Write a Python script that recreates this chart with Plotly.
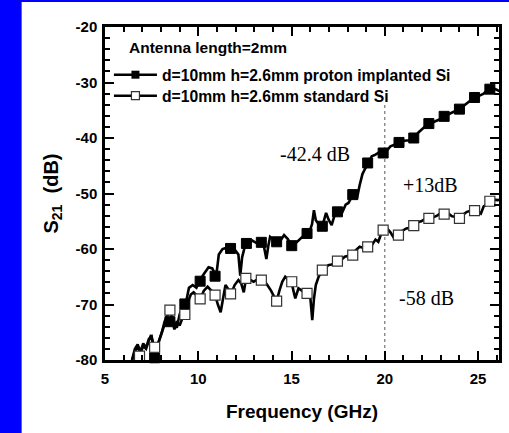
import plotly.graph_objects as go

# ---- data ----
imp_x = [6.45, 6.6, 6.75, 6.9, 7.05, 7.2, 7.35, 7.5, 7.65, 7.8, 7.95, 8.1, 8.3, 8.5, 8.7, 8.85,
         9.0, 9.2, 9.35, 9.5, 9.7, 9.9, 10.1, 10.3, 10.55, 10.75, 10.9, 11.0, 11.1, 11.3, 11.5,
         11.75, 12.0, 12.15, 12.25, 12.35, 12.5, 12.7, 12.9, 13.1, 13.3, 13.5, 13.65, 13.75,
         13.85, 14.0, 14.2, 14.4, 14.6, 14.8, 15.0, 15.2, 15.4, 15.6, 15.8, 16.0, 16.1, 16.2,
         16.3, 16.45, 16.65, 16.85, 17.0, 17.15, 17.3, 17.5, 17.7, 17.9, 18.05, 18.2, 18.35,
         18.5, 18.65, 18.8, 18.95, 19.1, 19.3, 19.5, 19.7, 19.9, 20.1, 20.3, 20.55, 20.8, 21.05,
         21.3, 21.55, 21.8, 22.05, 22.3, 22.55, 22.8, 23.05, 23.3, 23.55, 23.8, 24.05, 24.3,
         24.55, 24.8, 25.05, 25.3, 25.55, 25.8, 26.05, 26.3, 26.5]
imp_y = [-80, -78, -77.2, -78.5, -77, -77.8, -76.2, -75.8, -78.2, -77.5, -76, -74.5, -72.5, -73,
         -73.5, -74.2, -71.8, -69.8, -69.5, -67, -66.5, -67, -65.5, -64.5, -63.3, -63.5, -64.5,
         -63.8, -61, -60, -59.8, -59.8, -60.3, -61, -64.8, -61.5, -59.5, -59, -58.5, -58.9,
         -58.6, -59.2, -61.8, -59.5, -57.8, -58.2, -58.6, -58.5, -57.5, -58.2, -59.4, -59.0,
         -58.4, -57.8, -57.2, -56.5, -55.5, -53, -54.8, -55.5, -55.9, -53.5, -54.8, -55.7, -54,
         -53.2, -53.5, -52, -51.7, -50.8, -50.2, -51, -48.5, -46.5, -45.5, -44.5, -43.3, -43,
         -42.6, -42.7, -42.3, -41.5, -41.2, -40.8, -40.5, -40.4, -40.0, -39, -38.2, -37.5,
         -37.2, -36.8, -36.5, -35.9, -35.5, -35.2, -34.7, -34, -33.3, -32.7, -32.4, -32,
         -31.3, -31, -31.4, -31.8, -32]

std_x = [6.45, 6.6, 6.75, 6.9, 7.05, 7.2, 7.35, 7.47, 7.6, 7.75, 7.9, 8.05, 8.2, 8.35, 8.5, 8.6,
         8.72, 8.85, 9.0, 9.15, 9.3, 9.45, 9.6, 9.75, 9.9, 10.1, 10.3, 10.5, 10.7, 10.9, 11.05,
         11.2, 11.35, 11.46, 11.6, 11.75, 11.95, 12.15, 12.3, 12.44, 12.55, 12.75, 12.97, 13.2,
         13.4, 13.55, 13.7, 13.9, 14.05, 14.2, 14.35, 14.5, 14.66, 14.85, 15.0, 15.1, 15.2,
         15.37, 15.55, 15.7, 15.85, 16.0, 16.11, 16.2, 16.3, 16.45, 16.65, 16.8, 16.97, 17.15,
         17.3, 17.46, 17.65, 17.85, 18.05, 18.28, 18.45, 18.65, 18.85, 19.1, 19.3, 19.5, 19.65,
         19.8, 20.0, 20.15, 20.3, 20.45, 20.6, 20.75, 20.95, 21.15, 21.35, 21.55, 21.75, 21.95,
         22.15, 22.35, 22.6, 22.8, 23.0, 23.2, 23.4, 23.6, 23.8, 24.0, 24.2, 24.4, 24.6, 24.8,
         25.0, 25.15, 25.3, 25.45, 25.65, 25.85, 26.05, 26.3, 26.5]
std_y = [-80, -78.5, -77.5, -78.8, -77.5, -78, -76.5, -75.5, -77.5, -78, -76.5, -75, -73, -72,
         -71, -72.8, -74.5, -73, -73.8, -72.5, -71.8, -69.5, -68.2, -67.8, -68.4, -69, -67.5,
         -66.8, -67.5, -68.3, -70, -71.4, -68.5, -66.5, -67.2, -68.1, -66.5, -65.6, -66.2,
         -67.8, -65.5, -65.5, -65.9, -65.4, -65.6, -65.8, -66.5, -67.5, -68.5, -69.4, -67.5,
         -65.9, -65.0, -65.6, -66, -67.5, -68.9, -67.1, -67.5, -67.8, -68.1, -68.5, -72.8, -69,
         -66.5, -65, -63.8, -63.5, -62.9, -62.8, -62.5, -62.2, -62, -61.4, -61.2, -61.1, -60.2,
         -59.6, -59.8, -59.6, -59.3, -58.3, -58.7, -57.3, -56.6, -56.4, -57.0, -57.8, -57.2,
         -57.5, -56.7, -56.3, -56.2, -55.8, -55.2, -55.0, -54.6, -54.5, -54.3, -54, -53.5,
         -53.7, -53.6, -54.1, -54.2, -54.5, -53.8, -53.3, -53.1, -53.1, -53.3, -53.6, -52.3,
         -52, -51.4, -51.1, -51.2, -51.0, -50.8]

imp_mx = [7.66, 8.48, 9.28, 10.1, 10.9, 11.73, 12.58, 13.38, 14.2, 15.01, 15.83, 16.65, 17.46,
          18.28, 19.08, 19.91, 20.76, 21.55, 22.36, 23.18, 24.0, 24.81, 25.63, 26.37]
imp_my = [-79.6, -73.1, -69.9, -65.8, -64.9, -59.9, -59.0, -58.8, -58.7, -59.4, -57.2, -55.9,
          -53.3, -50.2, -44.5, -42.7, -40.8, -40.0, -37.4, -36.1, -34.8, -32.7, -31.2, -31.9]

std_mx = [6.85, 7.66, 8.48, 9.28, 10.1, 10.9, 11.73, 12.55, 13.38, 14.2, 15.01, 15.83, 16.65,
          17.46, 18.28, 19.08, 19.91, 20.73, 21.55, 22.36, 23.18, 24.0, 24.81, 25.63, 26.37]
std_my = [-79.3, -77.7, -71.0, -71.8, -69.0, -68.3, -68.1, -65.3, -65.6, -69.4, -65.9, -68.0,
          -63.8, -62.2, -61.1, -59.6, -56.6, -57.5, -55.8, -54.5, -53.7, -54.5, -53.1, -51.4,
          -51.1]

x_ticks = [5, 10, 15, 20, 25]
x_ticktext = ["5", "10", "15", "20", "25"]
y_ticks = [-80, -70, -60, -50, -40, -30, -20]
y_ticktext = ["-80", "-70", "-60", "-50", "-40", "-30", "-20"]

name_imp = "d=10mm h=2.6mm proton implanted Si"
name_std = "d=10mm h=2.6mm standard Si"

BOLD = "Arial, 'Liberation Sans', sans-serif"
SERIF = "'Times New Roman', 'Liberation Serif', serif"

fig = go.Figure()

# noisy traces
fig.add_trace(go.Scatter(x=imp_x, y=imp_y, mode="lines", line=dict(color="black", width=2.6),
                         showlegend=False, hoverinfo="skip"))
fig.add_trace(go.Scatter(x=std_x, y=std_y, mode="lines", line=dict(color="black", width=2.6),
                         showlegend=False, hoverinfo="skip"))
# markers
fig.add_trace(go.Scatter(x=imp_mx, y=imp_my, mode="markers", showlegend=False, cliponaxis=False,
                         marker=dict(symbol="square", size=10, color="black",
                                     line=dict(color="black", width=1))))
fig.add_trace(go.Scatter(x=std_mx, y=std_my, mode="markers", showlegend=False, cliponaxis=False,
                         marker=dict(symbol="square", size=10, color="white",
                                     line=dict(color="#333333", width=1.2))))
# legend entries (one legend box each, to control spacing)
fig.add_trace(go.Scatter(x=[None], y=[None], mode="lines+markers", name=name_imp,
                         legend="legend",
                         line=dict(color="black", width=2.6),
                         marker=dict(symbol="square", size=8, color="black")))
fig.add_trace(go.Scatter(x=[None], y=[None], mode="lines+markers", name=name_std,
                         legend="legend2",
                         line=dict(color="black", width=2.6),
                         marker=dict(symbol="square", size=8, color="white",
                                     line=dict(color="#333333", width=1.2))))

axis_common = dict(showline=True, linecolor="black", linewidth=2.5, mirror="ticks",
                   ticks="inside", ticklen=9, tickwidth=2, tickcolor="black",
                   showgrid=False, zeroline=False,
                   tickfont=dict(family=BOLD, size=15, color="black", weight="bold"))

fig.update_xaxes(range=[5, 26.12], tickvals=x_ticks, ticktext=x_ticktext, ticklabelstandoff=3,
                 minor=dict(dtick=1, ticks="inside", ticklen=5, tickwidth=2, tickcolor="black"),
                 title=dict(text="<b>Frequency (GHz)</b>", standoff=19,
                            font=dict(family=BOLD, size=19, color="black")),
                 **axis_common)
fig.update_yaxes(range=[-80, -20], tickvals=y_ticks, ticktext=y_ticktext, ticklabelstandoff=2,
                 minor=dict(dtick=2, ticks="inside", ticklen=5, tickwidth=2, tickcolor="black"),
                 title=dict(text="<b>S<sub>21</sub>&nbsp; (dB)</b>", standoff=12,
                            font=dict(family=BOLD, size=20, color="black")),
                 **axis_common)

shapes = [
    dict(type="rect", xref="paper", yref="paper", x0=-0.30, x1=(21 - 105) / 397,
         y0=-0.25, y1=1.1, fillcolor="#0000FF", line=dict(width=0), layer="above"),
    dict(type="rect", xref="paper", yref="paper", x0=-0.30, x1=1.05,
         y0=1 + 25 / 333, y1=1.1, fillcolor="#0000FF", line=dict(width=0), layer="above"),
    dict(type="line", xref="x", yref="y", x0=20, x1=20, y0=-80, y1=-34,
         line=dict(color="#555555", width=1, dash="dot"), layer="below"),
]

annotations = [
    dict(x=6.2, y=-23.7, xref="x", yref="y", xanchor="left", yanchor="middle", showarrow=False,
         text="<b>Antenna length=2mm</b>", font=dict(family=BOLD, size=15.5, color="black")),
    dict(x=16.27, y=-42.85, xref="x", yref="y", showarrow=False, text="-42.4 dB",
         font=dict(family=SERIF, size=20, color="black")),
    dict(x=22.45, y=-48.4, xref="x", yref="y", showarrow=False, text="+13dB",
         font=dict(family=SERIF, size=20, color="black")),
    dict(x=22.24, y=-68.8, xref="x", yref="y", showarrow=False, text="-58 dB",
         font=dict(family=SERIF, size=20, color="black")),
]

leg_common = dict(xanchor="left", yanchor="middle", bgcolor="rgba(0,0,0,0)", borderwidth=0,
                  font=dict(family=BOLD, size=15.7, color="black", weight="bold"),
                  itemwidth=43)

fig.update_layout(
    width=509, height=433,
    margin=dict(l=105, r=7, t=27, b=73),
    paper_bgcolor="white", plot_bgcolor="white",
    shapes=shapes, annotations=annotations,
    showlegend=True,
    legend=dict(x=0.01, y=(360 - 75) / 333, **leg_common),
    legend2=dict(x=0.01, y=(360 - 96) / 333, **leg_common),
)

fig.write_html("out.html")
